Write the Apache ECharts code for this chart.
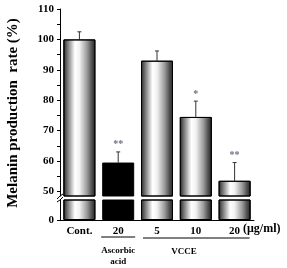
<!DOCTYPE html>
<html lang="en">
<head>
    <meta charset="UTF-8">
    <title>Melanin production</title>
    <script src="https://cdn.jsdelivr.net/npm/echarts@6/dist/echarts.min.js"></script>
    <style>
        html, body { margin: 0; padding: 0; background: #fff; }
        #main { width: 287px; height: 268px; }
    </style>
</head>
<body>
<div id="main"></div>
<script>
    var categories = ['Cont.', '20', '5', '10', '20'];
    var values = [100, 59.5, 93, 74.5, 53.5];
    var errors = [2.5, 3.5, 3.2, 5.2, 6.0];
    var stars = ['', '**', '', '*', '**'];
    var barColors = ['cyl', 'black', 'cyl', 'cyl', 'cyl'];
    var upperLabels = [50, 60, 70, 80, 90, 100, 110];
    var upperTicks = [50, 55, 60, 65, 70, 75, 80, 85, 90, 95, 100, 105, 110];

    var font = 'Liberation Serif';
    var cylinder = {
        type: 'linear', x: 0, y: 0, x2: 1, y2: 0,
        colorStops: [
            {offset: 0, color: '#262626'},
            {offset: 0.12, color: '#707070'},
            {offset: 0.36, color: '#ffffff'},
            {offset: 0.5, color: '#f2f2f2'},
            {offset: 0.74, color: '#9a9a9a'},
            {offset: 0.9, color: '#4a4a4a'},
            {offset: 1, color: '#262626'}
        ]
    };

    function barData() {
        return values.map(function (v, i) {
            return {
                value: v,
                itemStyle: {color: barColors[i] === 'black' ? '#000' : cylinder}
            };
        });
    }

    var myChart = echarts.init(document.getElementById('main'));
    var option = {
        animation: false,
        grid: [
            {left: 60, top: 9, width: 194, height: 187},   // upper part
            {left: 60, top: 200, width: 194, height: 20}   // lower part
        ],
        xAxis: [
            {type: 'category', gridIndex: 0, data: categories, show: false},
            {
                type: 'category', gridIndex: 1, data: categories,
                axisLine: {lineStyle: {color: '#000', width: 1}},
                axisTick: {inside: true, length: 3, lineStyle: {color: '#000'}},
                axisLabel: {
                    color: '#000', fontFamily: font, fontWeight: 'bold', fontSize: 11, margin: 6
                }
            }
        ],
        yAxis: [
            {
                type: 'value', gridIndex: 0, min: 48.5, max: 110,
                splitLine: {show: false},
                axisLine: {show: true, lineStyle: {color: '#000', width: 1}},
                axisTick: {show: true, length: 3, customValues: upperTicks, lineStyle: {color: '#000'}},
                axisLabel: {
                    customValues: upperLabels, color: '#000', fontFamily: font,
                    fontWeight: 'bold', fontSize: 11, margin: 6
                }
            },
            {
                type: 'value', gridIndex: 1, min: 0, max: 5,
                splitLine: {show: false},
                axisLine: {show: true, lineStyle: {color: '#000', width: 1}},
                axisTick: {show: true, length: 3, customValues: [0], lineStyle: {color: '#000'}},
                axisLabel: {
                    customValues: [0], color: '#000', fontFamily: font,
                    fontWeight: 'bold', fontSize: 11, margin: 6
                }
            }
        ],
        series: [
            {
                type: 'bar', xAxisIndex: 0, yAxisIndex: 0, barWidth: 32, clip: true,
                itemStyle: {borderColor: '#000', borderWidth: 1},
                data: barData()
            },
            {
                type: 'bar', xAxisIndex: 1, yAxisIndex: 1, barWidth: 32, clip: true,
                itemStyle: {borderColor: '#000', borderWidth: 1},
                data: barData()
            },
            {
                type: 'custom', xAxisIndex: 0, yAxisIndex: 0,
                data: values.map(function (v, i) { return [i, v, v + errors[i]]; }),
                renderItem: function (params, api) {
                    var i = api.value(0);
                    var low = api.coord([i, api.value(1)]);
                    var high = api.coord([i, api.value(2)]);
                    var children = [
                        {type: 'line', shape: {x1: low[0], y1: low[1], x2: high[0], y2: high[1]},
                            style: {stroke: '#333', lineWidth: 1}},
                        {type: 'line', shape: {x1: high[0] - 2, y1: high[1], x2: high[0] + 2, y2: high[1]},
                            style: {stroke: '#333', lineWidth: 1}}
                    ];
                    if (stars[i]) {
                        children.push({
                            type: 'text',
                            style: {
                                text: stars[i], x: high[0], y: high[1] - 2,
                                align: 'center', verticalAlign: 'bottom',
                                fill: '#6e6e86', font: 'bold 10px ' + font
                            }
                        });
                    }
                    return {type: 'group', children: children};
                }
            }
        ],
        graphic: [
            {
                type: 'text', x: 13, y: 113, rotation: Math.PI / 2,
                style: {
                    text: 'Melanin production  rate (%)', align: 'center', verticalAlign: 'middle',
                    fill: '#000', font: 'bold 15px ' + font
                }
            },
            // axis break marks
            {type: 'polyline', shape: {points: [[57, 199], [60, 196], [63, 194]]}, style: {stroke: '#000', lineWidth: 1, fill: null}},
            {type: 'polyline', shape: {points: [[57, 202], [60, 200], [63, 197]]}, style: {stroke: '#000', lineWidth: 1, fill: null}}
        ]
    };
    myChart.setOption(option);

    // group captions under the category labels
    function px(i) { return myChart.convertToPixel({xAxisIndex: 1}, i); }
    var half = 17;
    myChart.setOption({
        graphic: option.graphic.concat([
            {type: 'line', shape: {x1: px(1) - half, y1: 237, x2: px(1) + half, y2: 237}, style: {stroke: '#000', lineWidth: 1}},
            {type: 'text', x: px(1), y: 251, style: {text: 'Ascorbic', align: 'center', verticalAlign: 'middle', fill: '#000', font: 'bold 9px ' + font}},
            {type: 'text', x: px(1), y: 262, style: {text: 'acid', align: 'center', verticalAlign: 'middle', fill: '#000', font: 'bold 9px ' + font}},
            {type: 'line', shape: {x1: px(2) - 14, y1: 238, x2: px(4) + 15, y2: 238}, style: {stroke: '#000', lineWidth: 1}},
            {type: 'text', x: 184, y: 252, style: {text: 'VCCE', align: 'center', verticalAlign: 'middle', fill: '#000', font: 'bold 9px ' + font}},
            {type: 'text', x: 243, y: 229, style: {text: '(μg/ml)', align: 'left', verticalAlign: 'middle', fill: '#000', font: 'bold 12px ' + font}}
        ])
    });
</script>
</body>
</html>
